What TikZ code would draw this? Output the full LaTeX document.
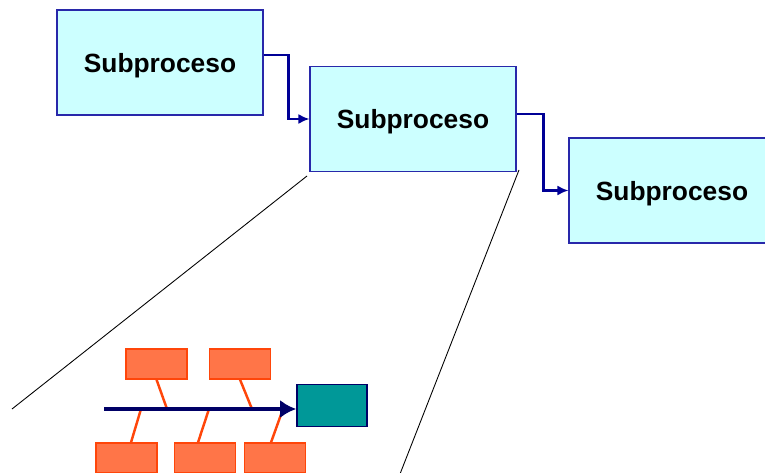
\documentclass[tikz,border=0pt]{standalone}
\usepackage{fontspec}
\setmainfont{Liberation Sans}
\usepackage{tikz}
\usetikzlibrary{arrows.meta,positioning,calc}
\definecolor{softcyan}{RGB}{204,255,255}
\definecolor{edgeblue}{RGB}{40,40,170}
\definecolor{flowblue}{RGB}{0,0,150}
\definecolor{bonered}{RGB}{255,70,10}
\definecolor{bonefill}{RGB}{255,117,72}
\definecolor{headteal}{RGB}{0,152,152}
\definecolor{spinenavy}{RGB}{0,0,102}

\begin{document}
\begin{tikzpicture}[
  x=0.02cm, y=-0.02cm,
  sub/.style={draw=edgeblue,line width=0.6pt,fill=softcyan,minimum width=4.12cm,
    minimum height=2.1cm,font=\fontsize{15}{18}\selectfont\bfseries,inner sep=0pt,
    text depth=0pt},
  cause/.style={draw=bonered,line width=0.6pt,fill=bonefill,minimum width=1.22cm,
    minimum height=0.6cm,inner sep=0pt},
  flow/.style={-{Latex[length=2.2mm,width=2mm]},draw=flowblue,line width=1.2pt},
  spine/.style={-{Latex[length=3.2mm,width=3.6mm]},draw=spinenavy,line width=2.8pt},
  bone/.style={draw=bonered,line width=1.4pt}
]
\clip (0,0) rectangle (765,473);
\node[sub] (sp1) at (160,62.5) {Subproceso};
\node[sub] (sp2) at (413,119) {Subproceso};
\node[sub] (sp3) at (672,190.5) {Subproceso};
\draw[flow] ([yshift=1.5mm]sp1.east) -- ++(25,0) |- (sp2.west);
\draw[flow] ([yshift=1mm]sp2.east) -- ++(27,0) |- (sp3.west);
% zoom lines
\coordinate (za) at (307,176);
\coordinate (zb) at (12,409);
\coordinate (zc) at (519,170);
\coordinate (zd) at (400,474);
\draw[line width=0.5pt] (za) -- (zb);
\draw[line width=0.5pt] (zc) -- (zd);
% fishbone
\node[draw=spinenavy,line width=0.9pt,fill=headteal,minimum width=1.4cm,
  minimum height=0.84cm,inner sep=0pt] (effect) at (332,405.5) {};
\node[cause] (c1) at (156.5,364) {};
\node[cause] (c2) at (240,364) {};
\node[cause] (c3) at (126.5,458) {};
\node[cause] (c4) at (205,458) {};
\node[cause] (c5) at (275,458) {};
\coordinate (tail) at (104,409);
\coordinate (j1) at (167,409);
\coordinate (j2) at (252,409);
\coordinate (j3) at (141,409);
\coordinate (j4) at (209,409);
\coordinate (j5) at (283,409);
\draw[bone] (c1.south) -- (j1);
\draw[bone] (c2.south) -- (j2);
\draw[bone] ([xshift=0.09cm]c3.north) -- (j3);
\draw[bone] ([xshift=-0.14cm]c4.north) -- (j4);
\draw[bone] ([xshift=-0.08cm]c5.north) -- (j5);
\draw[spine] (tail) -- (tail -| effect.west);
\end{tikzpicture}
\end{document}
